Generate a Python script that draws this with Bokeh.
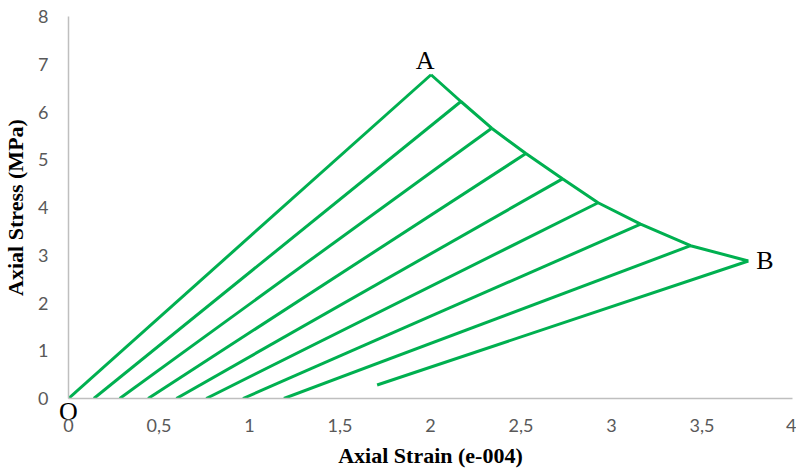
from bokeh.plotting import figure
from bokeh.models import Range1d, FixedTicker, Label, LinearAxis
from bokeh.embed import file_html
from bokeh.resources import INLINE

# Envelope (peak) points from A down to B
peak_strain = [2.003, 2.168, 2.338, 2.527, 2.729, 2.926, 3.161, 3.437, 3.756]
peak_stress = [6.78, 6.22, 5.66, 5.13, 4.60, 4.10, 3.65, 3.20, 2.88]
# Start points of the loading/unloading lines (from O and residual strains)
res_strain = [0.0, 0.140, 0.283, 0.440, 0.596, 0.761, 0.964, 1.190, 1.705]
res_stress = [0.0, 0.0, 0.0, 0.0, 0.0, 0.0, 0.0, 0.0, 0.283]

x_ticks = [0, 0.5, 1, 1.5, 2, 2.5, 3, 3.5, 4]
x_tick_labels = ["0", "0,5", "1", "1,5", "2", "2,5", "3", "3,5", "4"]
y_ticks = [0, 1, 2, 3, 4, 5, 6, 7, 8]

GREEN = "#00B050"

p = figure(width=796, height=471, output_backend="svg", toolbar_location=None,
           x_range=Range1d(0, 4), y_range=Range1d(0, 8),
           min_border_left=67, min_border_right=4, min_border_top=16, min_border_bottom=73)
p.outline_line_color = None
p.xgrid.visible = False
p.ygrid.visible = False

# lines from residual points to the envelope
p.segment(x0=res_strain, y0=res_stress, x1=peak_strain, y1=peak_stress,
          line_color=GREEN, line_width=3)
# envelope A -> B
p.line(peak_strain, peak_stress, line_color=GREEN, line_width=3)

main_x = p.xaxis[0]
for ax in (main_x, p.yaxis[0]):
    ax.axis_line_color = "#BFBFBF"
    ax.axis_line_width = 1.5
    ax.major_tick_line_color = None
    ax.minor_tick_line_color = None
    ax.major_tick_out = 0
    ax.major_tick_in = 0
    ax.minor_tick_out = 0
    ax.major_label_text_font = "Lato"
    ax.major_label_text_font_size = "18px"
    ax.major_label_text_color = "#595959"
    ax.axis_label_text_font = "Liberation Serif"
    ax.axis_label_text_font_style = "bold"
    ax.axis_label_text_color = "#000000"
    ax.axis_label_text_font_size = "22px"

# axis carrying the origin label "O" right under the frame (draws the x axis line)
o_axis = LinearAxis(ticker=FixedTicker(ticks=[0]), major_label_overrides={0: "O"},
                    major_label_text_font="Liberation Serif", major_label_text_font_size="26px",
                    major_label_text_color="#000000", major_label_standoff=-2,
                    axis_line_color="#BFBFBF", axis_line_width=1.5,
                    major_tick_line_color=None, minor_tick_line_color=None,
                    major_tick_out=0, major_tick_in=0, minor_tick_out=0)

main_x.axis_line_color = None
main_x.ticker = FixedTicker(ticks=x_ticks)
main_x.major_label_overrides = {t: l for t, l in zip(x_ticks, x_tick_labels)}
main_x.major_label_standoff = -10
main_x.axis_label = "Axial Strain (e-004)"
main_x.axis_label_standoff = 8

p.below = [o_axis, main_x]

p.yaxis[0].ticker = FixedTicker(ticks=y_ticks)
p.yaxis[0].major_label_standoff = 20
p.yaxis[0].axis_label = "Axial Stress (MPa)"
p.yaxis[0].axis_label_standoff = 7

lab_kw = dict(text_font="Liberation Serif", text_font_size="26px", text_color="#000000")
p.add_layout(Label(x=peak_strain[0], y=peak_stress[0], text="A", text_align="center",
                   text_baseline="bottom", x_offset=-6, y_offset=0, **lab_kw))
p.add_layout(Label(x=peak_strain[-1], y=peak_stress[-1], text="B", text_align="left",
                   text_baseline="middle", x_offset=8, y_offset=0, **lab_kw))

open("out.html", "w").write(file_html(p, INLINE))
